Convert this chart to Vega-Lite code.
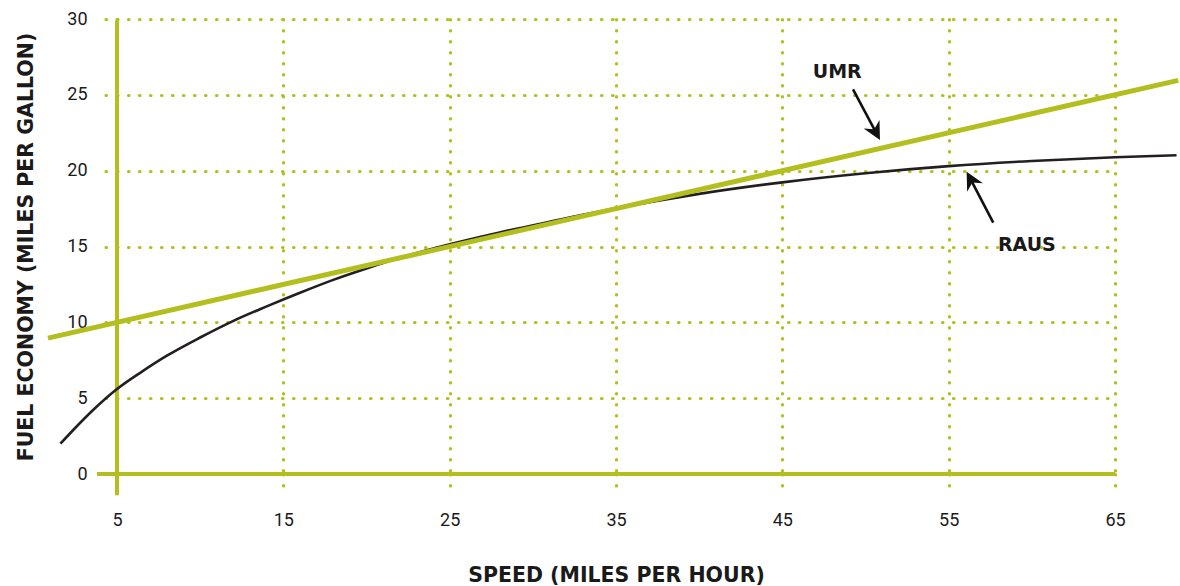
{
  "$schema": "https://vega.github.io/schema/vega-lite/v6.json",
  "width": 998,
  "height": 455,
  "autosize": {"type": "none"},
  "padding": {"left": 117, "top": 19, "right": 65, "bottom": 112},
  "background": "white",
  "config": {
    "view": {"stroke": null},
    "font": "Roboto",
    "axis": {
      "labelFont": "Roboto",
      "titleFont": "DejaVu Sans",
      "labelColor": "#1a1a1a",
      "titleColor": "#1a1a1a"
    }
  },
  "datasets": {
    "curves": [
      {"series": "UMR", "speed": 0.85, "mpg": 8.96},
      {"series": "UMR", "speed": 68.8, "mpg": 25.95},
      {"series": "RAUS", "speed": 1.6, "mpg": 2.0},
      {"series": "RAUS", "speed": 2.5, "mpg": 3.05},
      {"series": "RAUS", "speed": 3.5, "mpg": 4.15},
      {"series": "RAUS", "speed": 5.0, "mpg": 5.6},
      {"series": "RAUS", "speed": 6.5, "mpg": 6.75},
      {"series": "RAUS", "speed": 8.0, "mpg": 7.8},
      {"series": "RAUS", "speed": 10.0, "mpg": 9.0},
      {"series": "RAUS", "speed": 12.0, "mpg": 10.1},
      {"series": "RAUS", "speed": 14.0, "mpg": 11.05},
      {"series": "RAUS", "speed": 16.0, "mpg": 11.95},
      {"series": "RAUS", "speed": 18.0, "mpg": 12.8},
      {"series": "RAUS", "speed": 20.0, "mpg": 13.55},
      {"series": "RAUS", "speed": 22.0, "mpg": 14.25},
      {"series": "RAUS", "speed": 25.0, "mpg": 15.15},
      {"series": "RAUS", "speed": 28.0, "mpg": 15.93},
      {"series": "RAUS", "speed": 31.0, "mpg": 16.63},
      {"series": "RAUS", "speed": 35.0, "mpg": 17.52},
      {"series": "RAUS", "speed": 40.0, "mpg": 18.47},
      {"series": "RAUS", "speed": 45.0, "mpg": 19.23},
      {"series": "RAUS", "speed": 50.0, "mpg": 19.83},
      {"series": "RAUS", "speed": 55.0, "mpg": 20.3},
      {"series": "RAUS", "speed": 60.0, "mpg": 20.64},
      {"series": "RAUS", "speed": 65.0, "mpg": 20.88},
      {"series": "RAUS", "speed": 68.7, "mpg": 21.02}
    ],
    "labels": [
      {"series": "UMR", "speed": 48.3, "mpg": 26.5, "tailSpeed": 49.25, "tailMpg": 25.36, "endSpeed": 50.58, "endMpg": 22.62, "tipSpeed": 50.87, "tipMpg": 22.02},
      {"series": "RAUS", "speed": 59.7, "mpg": 15.13, "tailSpeed": 57.68, "tailMpg": 16.57, "endSpeed": 56.37, "endMpg": 19.33, "tipSpeed": 56.08, "tipMpg": 19.93}
    ]
  },
  "layer": [
    {
      "data": {"values": [{"speed": 5, "mpg": 0}]},
      "mark": {"type": "point", "opacity": 0},
      "encoding": {
        "x": {
          "field": "speed", "type": "quantitative",
          "scale": {"domain": [5, 65], "nice": false, "zero": false},
          "axis": {
            "values": [5, 15, 25, 35, 45, 55, 65],
            "title": "SPEED (MILES PER HOUR)",
            "titleFontSize": 20.5,
            "titleFontWeight": "bold",
            "titlePadding": 36,
            "labelFontSize": 18,
            "labelPadding": 18,
            "labelFlush": false,
            "domain": false,
            "grid": true,
            "gridColor": "#b3bf1f",
            "gridDash": [0.5, 10.5],
            "gridCap": "round",
            "gridWidth": 3.2,
            "ticks": true,
            "tickSize": 19,
            "tickColor": "#b3bf1f",
            "tickDash": [0.5, 10.5],
            "tickCap": "round",
            "tickWidth": 3.2
          }
        },
        "y": {
          "field": "mpg", "type": "quantitative",
          "scale": {"domain": [0, 30], "nice": false, "zero": false},
          "axis": {
            "values": [0, 5, 10, 15, 20, 25, 30],
            "title": "FUEL ECONOMY (MILES PER GALLON)",
            "titleFontSize": 20.5,
            "titleFontWeight": "bold",
            "titlePadding": 30,
            "labelFontSize": 18,
            "labelPadding": 10,
            "labelFlush": false,
            "domain": false,
            "grid": true,
            "gridColor": "#b3bf1f",
            "gridDash": [0.5, 10.5],
            "gridCap": "round",
            "gridWidth": 3.2,
            "ticks": true,
            "tickSize": 20,
            "tickColor": "#b3bf1f",
            "tickDash": [0.5, 10.5],
            "tickCap": "round",
            "tickWidth": 3.2
          }
        }
      }
    },
    {
      "data": {"values": [{"speed": 3.8, "speed2": 65, "mpg": 0}]},
      "mark": {"type": "rule", "color": "#b3bf1f", "strokeWidth": 4},
      "encoding": {
        "x": {"field": "speed", "type": "quantitative"},
        "x2": {"field": "speed2"},
        "y": {"field": "mpg", "type": "quantitative"}
      }
    },
    {
      "data": {"values": [{"speed": 5, "mpg": -1.4, "mpg2": 29.9}]},
      "mark": {"type": "rule", "color": "#b3bf1f", "strokeWidth": 4},
      "encoding": {
        "x": {"field": "speed", "type": "quantitative"},
        "y": {"field": "mpg", "type": "quantitative"},
        "y2": {"field": "mpg2"}
      }
    },
    {
      "data": {"name": "curves"},
      "transform": [{"filter": "datum.series === 'RAUS'"}],
      "mark": {"type": "line", "color": "#231f20", "strokeWidth": 2.6, "interpolate": "monotone"},
      "encoding": {
        "x": {"field": "speed", "type": "quantitative"},
        "y": {"field": "mpg", "type": "quantitative"}
      }
    },
    {
      "data": {"name": "curves"},
      "transform": [{"filter": "datum.series === 'UMR'"}],
      "mark": {"type": "line", "color": "#b3bf1f", "strokeWidth": 5},
      "encoding": {
        "x": {"field": "speed", "type": "quantitative"},
        "y": {"field": "mpg", "type": "quantitative"}
      }
    },
    {
      "data": {"name": "labels"},
      "mark": {"type": "text", "font": "DejaVu Sans", "fontWeight": "bold", "fontSize": 19, "color": "#1a1a1a", "align": "center", "baseline": "middle"},
      "encoding": {
        "x": {"field": "speed", "type": "quantitative"},
        "y": {"field": "mpg", "type": "quantitative"},
        "text": {"field": "series"}
      }
    },
    {
      "data": {"name": "labels"},
      "mark": {"type": "rule", "color": "#111111", "strokeWidth": 2.6},
      "encoding": {
        "x": {"field": "tailSpeed", "type": "quantitative"},
        "y": {"field": "tailMpg", "type": "quantitative"},
        "x2": {"field": "endSpeed"},
        "y2": {"field": "endMpg"}
      }
    },
    {
      "data": {"name": "labels"},
      "transform": [{"filter": "datum.series === 'UMR'"}],
      "mark": {"type": "point", "shape": "M0,0L0.8,1.6L0,1.1L-0.8,1.6Z", "filled": true, "color": "#111111", "opacity": 1, "size": 500, "angle": 152},
      "encoding": {
        "x": {"field": "tipSpeed", "type": "quantitative"},
        "y": {"field": "tipMpg", "type": "quantitative"}
      }
    },
    {
      "data": {"name": "labels"},
      "transform": [{"filter": "datum.series === 'RAUS'"}],
      "mark": {"type": "point", "shape": "M0,0L0.8,1.6L0,1.1L-0.8,1.6Z", "filled": true, "color": "#111111", "opacity": 1, "size": 500, "angle": 332},
      "encoding": {
        "x": {"field": "tipSpeed", "type": "quantitative"},
        "y": {"field": "tipMpg", "type": "quantitative"}
      }
    }
  ]
}
